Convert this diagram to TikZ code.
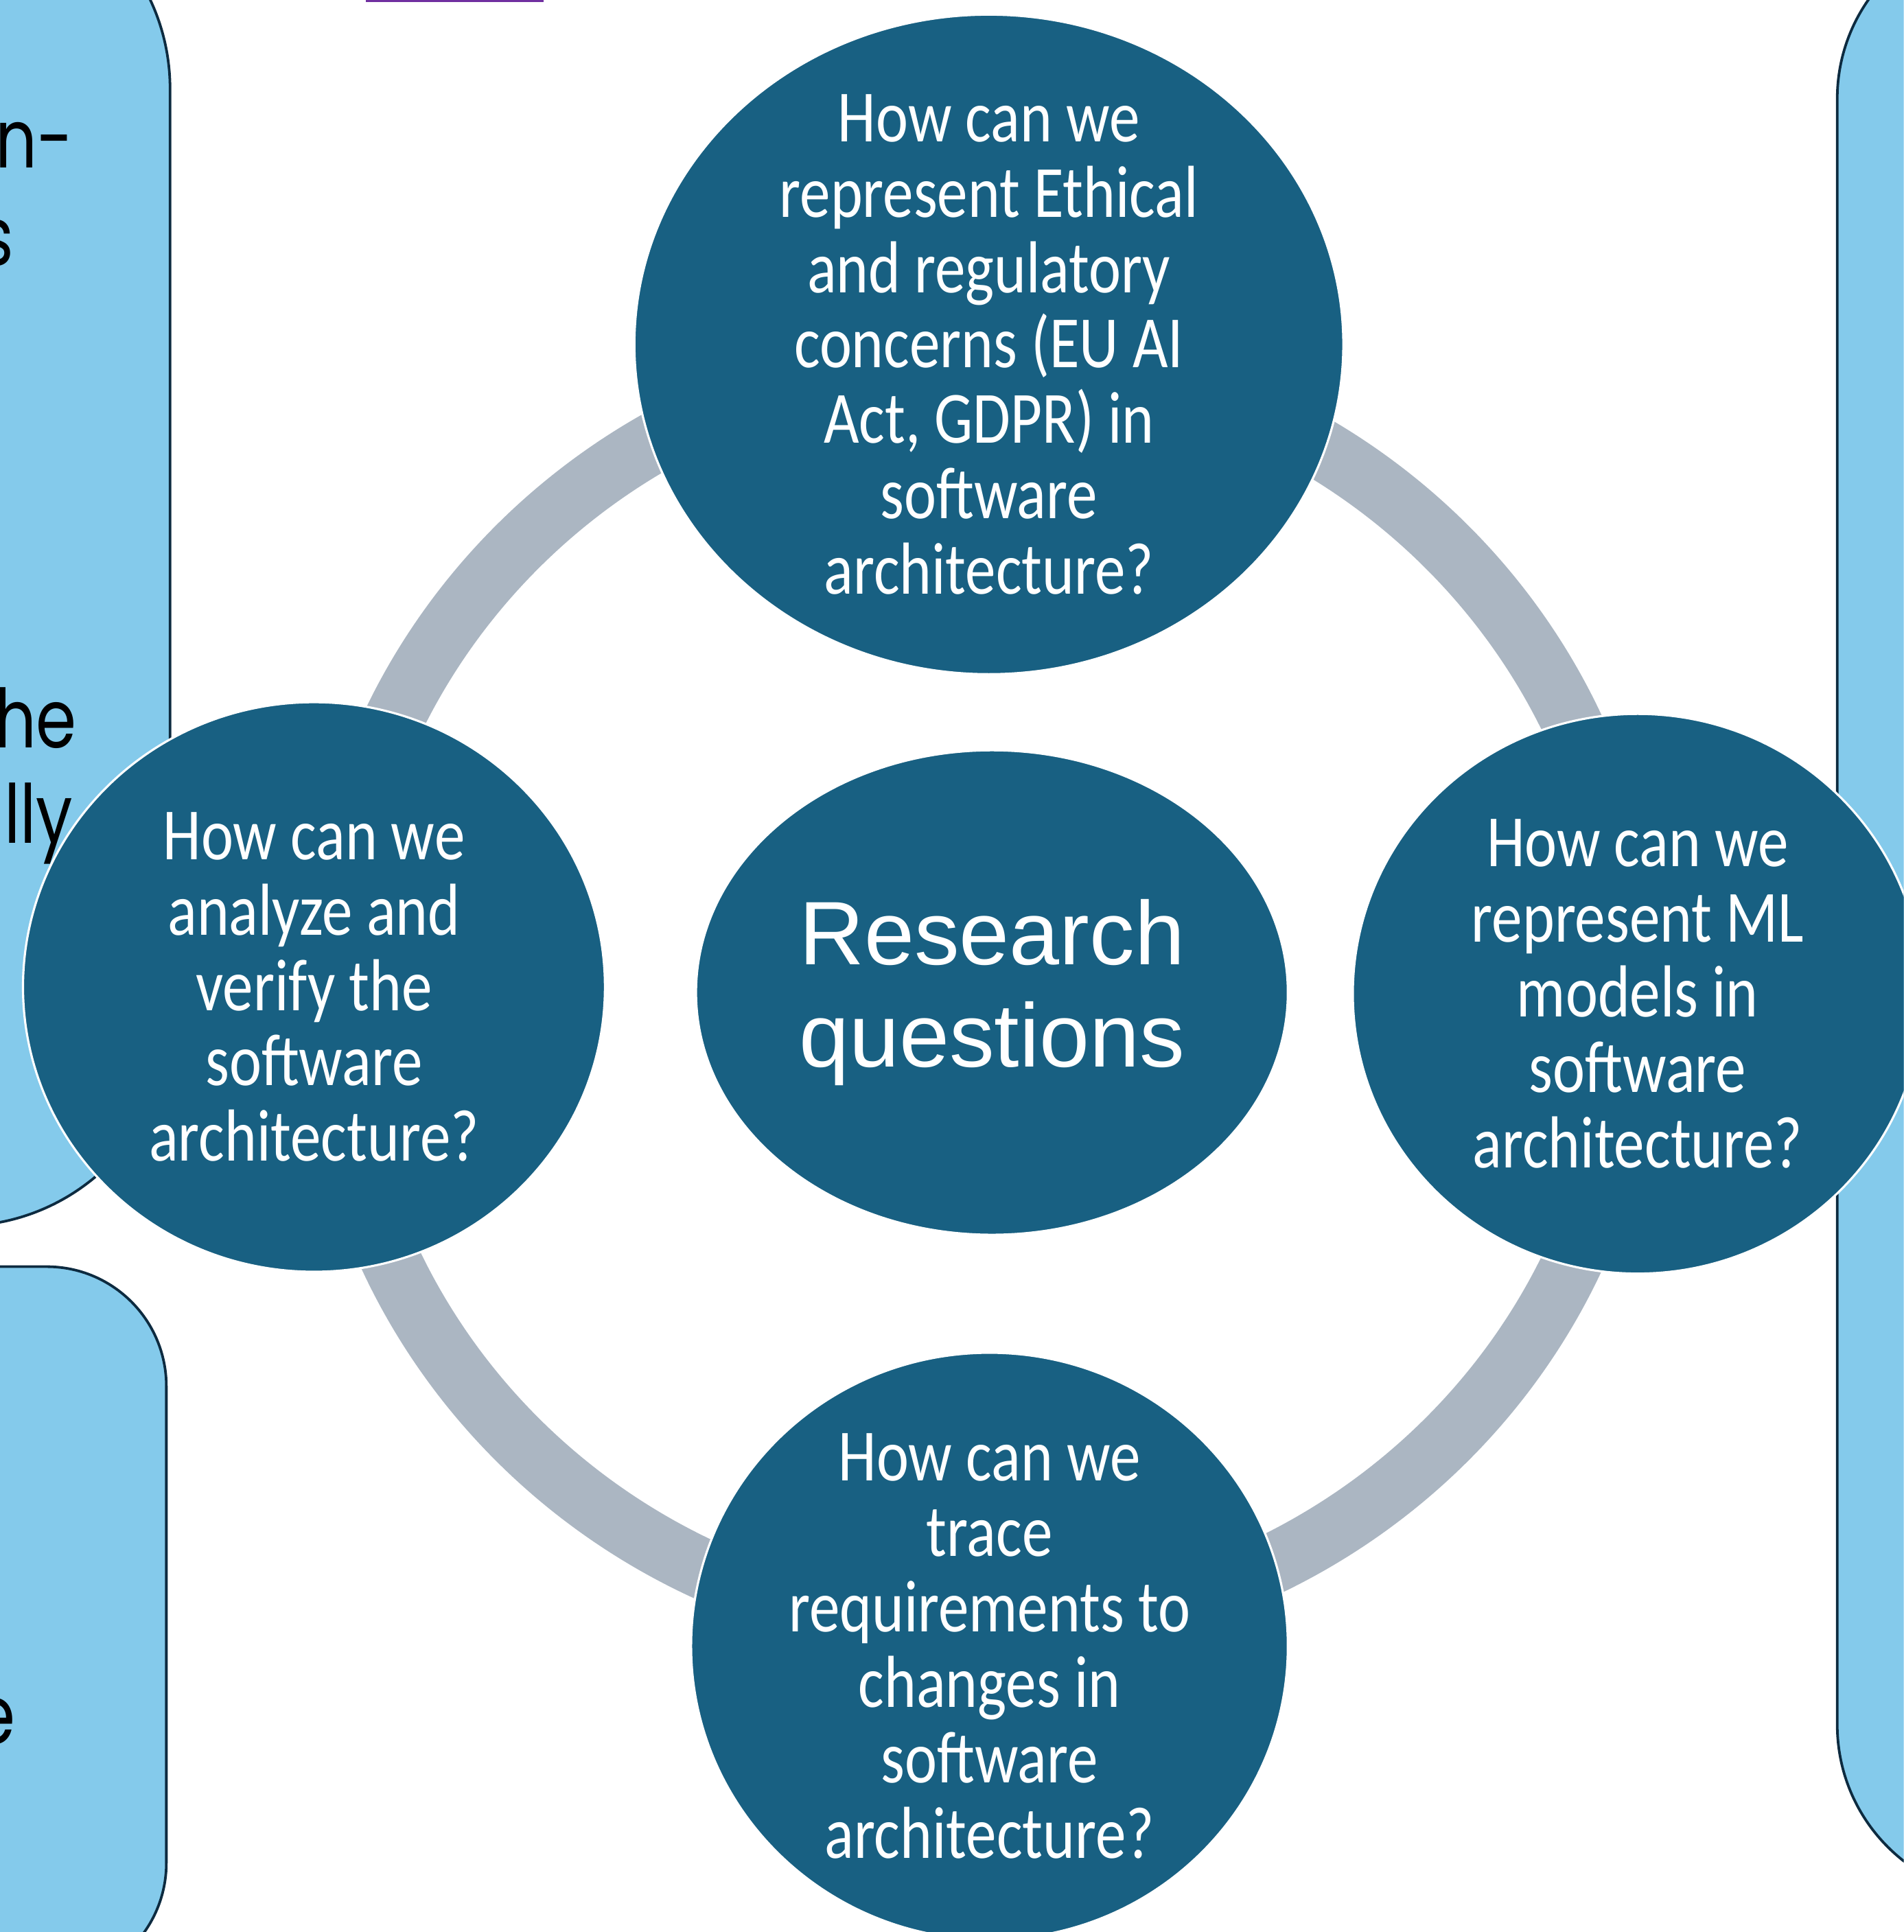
\documentclass[tikz,border=0pt]{standalone}
\usepackage{fontspec}
\usetikzlibrary{shapes.geometric}
\newfontfamily\qfont[FakeStretch=0.83]{Carlito}
\newfontfamily\hubfont{Liberation Sans}
\newfontfamily\notefont[FakeStretch=0.8]{Poppins}
\definecolor{rqblue}{RGB}{24,96,130}
\definecolor{ringgray}{RGB}{171,182,194}
\definecolor{panelblue}{RGB}{132,202,235}
\definecolor{paneledge}{RGB}{13,43,64}
\definecolor{linkpurple}{RGB}{112,48,160}

\begin{document}
\begin{tikzpicture}[x=0.01cm,y=-0.01cm,
  q node/.style={ellipse,fill=rqblue,draw=white,line width=0.5pt,inner sep=-8pt,
    text=white,align=center,font=\qfont\fontsize{17}{17.4}\selectfont},
  hub node/.style={q node,font=\hubfont\fontsize{20.8}{23.6}\selectfont},
  panel/.style={fill=panelblue,draw=paneledge,line width=0.6pt},
  cut text/.style={inner sep=0pt,anchor=base east,font=\notefont\fontsize{18.8}{22}\selectfont}]
  \useasboundingbox (0,0) rectangle (1545,1568);
  \clip (0,0) rectangle (1545,1568);
  % side panels
  \draw[panel,rounded corners=1.7cm] (-400,-98) rectangle (138,995);
  \draw[panel,rounded corners=0.97cm] (-400,1028) rectangle (135,1609);
  \draw[panel,rounded corners=1.4cm] (1491,-60) rectangle (1900,1540);
  \node[cut text] (t1) at (60,136) {n-};
  \node[cut text] (t2) at (12,215) {s};
  \node[cut text] (t3) at (63,607) {he};
  \node[cut text] (t4) at (60,684) {lly};
  \node[cut text] (t5) at (13,1415) {e};
  \draw[linkpurple,line width=0.5pt] (297,0.9) -- (441,0.9);
  % ring behind the questions
  \coordinate (ringc) at (797,806);
  \draw[ringgray,line width=0.49cm] (ringc) ellipse [x radius=5.28cm,y radius=5.17cm];
  \node[hub node,minimum width=4.8cm,minimum height=3.93cm] (rq) at (805,805.5) {Research\\questions};
  \node[q node,minimum width=5.75cm,minimum height=5.35cm] (ethics) at (802.5,279.5)
    {How can we\\represent Ethical\\and regulatory\\concerns (EU AI\\Act, GDPR) in\\software\\architecture?};
  \node[q node,minimum width=4.72cm,minimum height=4.62cm] (verify) at (254.8,801)
    {How can we\\analyze and\\verify the\\software\\architecture?};
  \node[q node,minimum width=4.62cm,minimum height=4.54cm] (mlmodels) at (1329,806.5)
    {How can we\\represent ML\\models in\\software\\architecture?};
  \node[q node,minimum width=4.84cm,minimum height=4.76cm] (trace) at (803,1336)
    {How can we\\trace\\requirements to\\changes in\\software\\architecture?};
\end{tikzpicture}
\end{document}
